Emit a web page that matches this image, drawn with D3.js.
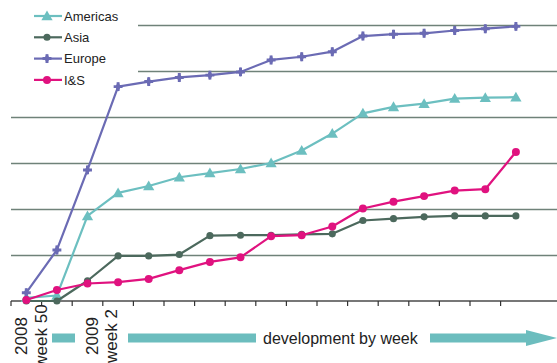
<!DOCTYPE html>
<html>
<head>
<meta charset="utf-8">
<script src="https://cdn.jsdelivr.net/npm/d3@7"></script>
<style>
  html, body { margin: 0; padding: 0; background: #fff; }
  svg { display: block; font-family: "Liberation Sans", Arial, Helvetica, sans-serif; }
</style>
</head>
<body>
<svg id="chart" width="557" height="363"></svg>
<script>
// Weekly periods, starting with week 50 of 2008
const weeks = ["2008-W50", "2008-W51", "2008-W52", "2009-W01", "2009-W02", "2009-W03",
  "2009-W04", "2009-W05", "2009-W06", "2009-W07", "2009-W08", "2009-W09",
  "2009-W10", "2009-W11", "2009-W12", "2009-W13", "2009-W14"];

// Cumulative development per region (grid units)
const americas = [0.07, 0.12, 1.85, 2.35, 2.50, 2.69, 2.78, 2.87, 3.00, 3.27, 3.64, 4.08, 4.22, 4.29, 4.40, 4.42, 4.43];
const asia     = [0.00, 0.00, 0.44, 0.98, 0.98, 1.01, 1.42, 1.43, 1.43, 1.45, 1.46, 1.75, 1.79, 1.83, 1.85, 1.85, 1.85];
const europe   = [0.18, 1.11, 2.85, 4.66, 4.77, 4.86, 4.91, 4.98, 5.24, 5.31, 5.42, 5.76, 5.80, 5.82, 5.88, 5.92, 5.97];
const iands    = [0.02, 0.24, 0.38, 0.41, 0.48, 0.67, 0.85, 0.95, 1.41, 1.43, 1.62, 2.01, 2.16, 2.28, 2.40, 2.43, 3.24];

const seriesNames = ["Americas", "Asia", "Europe", "I&S"];
const gridValues = [1, 2, 3, 4, 5, 6];

// Axis label blocks: two text lines each
const axisLabelLines = [["2008", "week 50"], ["2009", "week 2"]];
const axisTitle = "development by week";

const colors = { "Americas": "#6cbfc0", "Asia": "#4c695d", "Europe": "#6b6bb4", "I&S": "#e0127f" };
const symbolSizes = { "Americas": 55, "Asia": 40, "Europe": 44, "I&S": 50 };

const series = [
  { name: "Americas", values: americas },
  { name: "Asia", values: asia },
  { name: "Europe", values: europe },
  { name: "I&S", values: iands }
];

const svg = d3.select("#chart");
const W = 557;
const left = 11, step = 30.6, baseY = 301;

const x = d3.scaleBand().domain(weeks).range([left, left + step * weeks.length]).padding(0);
const y = d3.scaleLinear().domain([0, 6]).range([baseY, baseY - 46 * 6]);
const cx = d => x(d) + x.bandwidth() / 2;

// Marker shapes: Europe uses a star made of a cross over a diamond
function drawMarker(sel, name) {
  if (name === "Europe") {
    sel.append("path").attr("d", d3.symbol(d3.symbolCross, symbolSizes[name])).attr("fill", colors[name]);
    sel.append("path").attr("d", d3.symbol(d3.symbolDiamond, 26)).attr("fill", colors[name]);
  } else {
    const shape = name === "Americas" ? d3.symbolTriangle : d3.symbolCircle;
    sel.append("path").attr("d", d3.symbol(shape, symbolSizes[name])).attr("fill", colors[name]);
  }
}

// Horizontal gridlines (upper two start right of the legend)
svg.append("g").selectAll("line").data(gridValues).join("line")
  .attr("x1", d => d >= 5 ? 138 : left)
  .attr("x2", W)
  .attr("y1", d => Math.round(y(d)) + 0.5)
  .attr("y2", d => Math.round(y(d)) + 0.5)
  .attr("stroke", "#6f8279")
  .attr("stroke-width", 1.3);

// X axis with tick marks at band edges
const xAxis = svg.append("g");
xAxis.append("line")
  .attr("x1", left).attr("x2", W)
  .attr("y1", baseY).attr("y2", baseY)
  .attr("stroke", "#4a4a4a").attr("stroke-width", 1.6);
xAxis.selectAll("line.tick").data(weeks).join("line")
  .attr("class", "tick")
  .attr("x1", d => x(d)).attr("x2", d => x(d))
  .attr("y1", baseY).attr("y2", baseY + 5)
  .attr("stroke", "#333").attr("stroke-width", 1.2);

// Series lines and markers
const line = d3.line().x((d, i) => cx(weeks[i])).y(d => y(d));
const drawOrder = ["Americas", "Europe", "Asia", "I&S"];
drawOrder.forEach(name => {
  const s = series.find(t => t.name === name);
  const g = svg.append("g");
  g.append("path")
    .attr("d", line(s.values))
    .attr("fill", "none")
    .attr("stroke", colors[name])
    .attr("stroke-width", 2.2)
    .attr("stroke-linejoin", "round");
  g.selectAll("g.m").data(s.values).join("g")
    .attr("class", "m")
    .attr("transform", (d, i) => `translate(${cx(weeks[i])},${y(d) + (name === "Americas" ? 1 : 0)})`)
    .each(function () { drawMarker(d3.select(this), name); });
});

// Legend
const legend = svg.append("g");
seriesNames.forEach((name, i) => {
  const ly = 16 + i * 21.3;
  legend.append("line")
    .attr("x1", 34).attr("x2", 62).attr("y1", ly).attr("y2", ly)
    .attr("stroke", colors[name]).attr("stroke-width", 2.2);
  drawMarker(legend.append("g")
    .attr("transform", `translate(47,${ly + (name === "Americas" ? 1 : 0)})`), name);
  legend.append("text")
    .attr("x", 64).attr("y", ly)
    .attr("dy", "0.36em")
    .attr("font-size", 13)
    .attr("fill", "#222")
    .text(name);
});

// Rotated period labels under the axis
const labelCenters = [x(weeks[0]) + x.bandwidth() / 2 + 3, x(weeks[3]) - 3];
axisLabelLines.forEach((lines, k) => {
  const t = svg.append("text")
    .attr("transform", `translate(${labelCenters[k]},336) rotate(-90)`)
    .attr("text-anchor", "middle")
    .attr("font-size", 17)
    .attr("fill", "#222");
  lines.forEach((s, j) => {
    t.append("tspan").attr("x", 0).attr("y", j === 0 ? -2 : 17.5).text(s);
  });
});

// Direction arrow with title
const arrowY = 338, barH = 9;
const bars = [[52, 75], [128, 256], [430, 527]];
svg.append("g").selectAll("rect").data(bars).join("rect")
  .attr("x", d => d[0]).attr("y", arrowY - barH / 2)
  .attr("width", d => d[1] - d[0]).attr("height", barH)
  .attr("fill", "#6cbdbe");
svg.append("path")
  .attr("d", `M526,${arrowY - 8}L${W},${arrowY}L526,${arrowY + 8}Z`)
  .attr("fill", "#6cbdbe");
svg.append("text")
  .attr("x", 263).attr("y", arrowY + 6)
  .attr("font-size", 16)
  .attr("fill", "#222")
  .text(axisTitle);
</script>
</body>
</html>
